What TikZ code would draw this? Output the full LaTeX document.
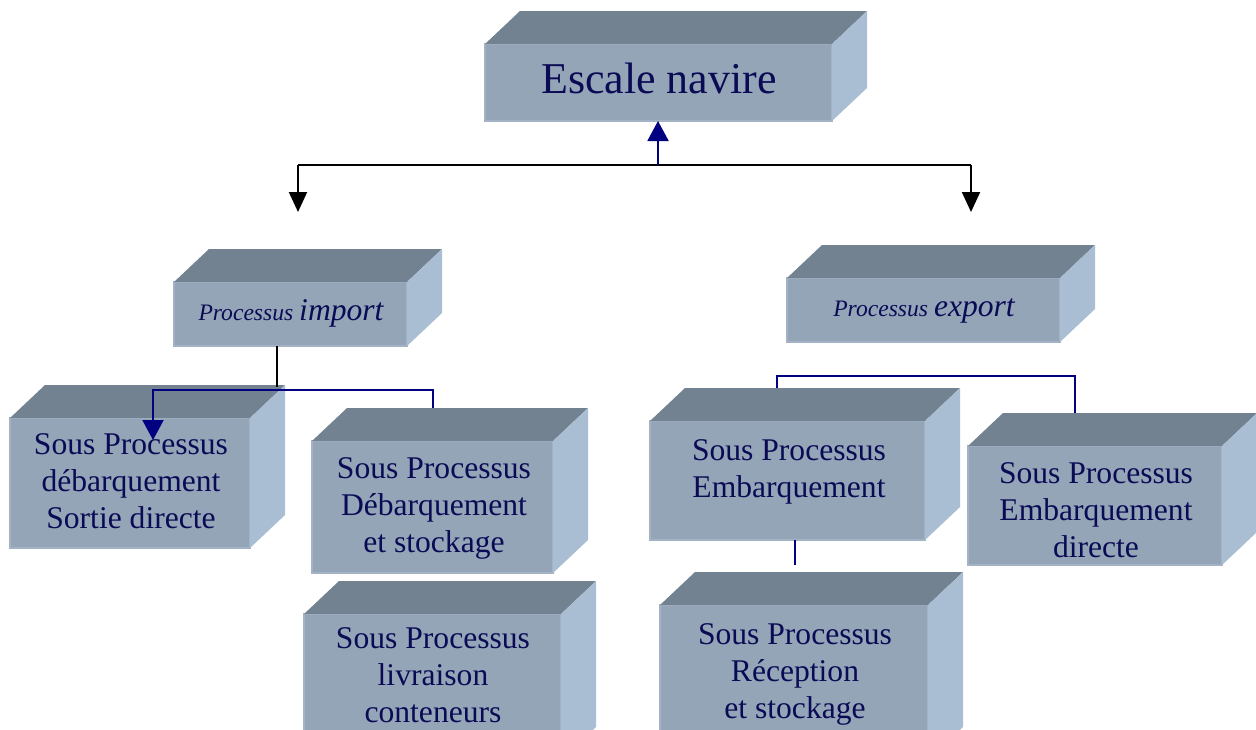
\documentclass[tikz,border=0pt]{standalone}
\usepackage{fontspec}
\setmainfont{Liberation Serif}
\usetikzlibrary{arrows.meta,calc}

\definecolor{frontc}{HTML}{94A5B8}
\definecolor{frontedge}{HTML}{A3B2C4}
\definecolor{topc}{HTML}{738291}
\definecolor{sidec}{HTML}{A9BED3}
\definecolor{inkc}{HTML}{0B0B55}
\definecolor{navyc}{HTML}{000080}

\tikzset{
  frontface/.style={fill=frontc, draw=frontedge, line width=0.75pt,
    inner sep=0pt, outer sep=0pt},
  topface/.style={fill=topc},
  sideface/.style={fill=sidec},
  boxtext/.style={text=inkc, align=center, inner sep=0pt,
    font=\fontsize{15.8pt}{18.3pt}\selectfont},
  titletext/.style={text=inkc, inner sep=0pt,
    font=\fontsize{22pt}{26pt}\selectfont},
  proctext/.style={text=inkc, inner sep=0pt, font=\itshape},
  blackline/.style={draw=black, line width=1pt},
  navyline/.style={draw=navyc, line width=1pt},
  blacktip/.style={-{Triangle[length=10pt,width=9pt]}},
  navytip/.style={-{Triangle[length=10pt,width=10.5pt]}},
}

% cuboid: name, left, top, right, bottom (pixel grid, y downwards)
\newcommand\cuboid[5]{%
  \node[frontface, minimum width={(#4-#2)*0.5pt}, minimum height={(#5-#3)*0.5pt}]
    (#1) at ({(#2+#4)/2},{(#3+#5)/2}) {};
  \fill[topface] (#1.north west) -- ++(35,-33)
    -- ([shift={(35,-33)}]#1.north east) -- (#1.north east) -- cycle;
  \fill[sideface] (#1.north east) -- ++(35,-33)
    -- ([shift={(35,-33)}]#1.south east) -- (#1.south east) -- cycle;
}

\begin{document}
\begin{tikzpicture}[x=0.5pt, y=-0.5pt]
\useasboundingbox (0,0) rectangle (1256,729);
\clip (0,0) rectangle (1256,729);

% boxes
\cuboid{esc}{485}{44}{832}{121}
\cuboid{imp}{174}{282}{407}{346}
\cuboid{exp}{787}{278}{1060}{342}
\cuboid{sd}{10}{418}{250}{548}
\cuboid{ds}{312}{441}{553}{573}
\cuboid{lc}{304}{614}{561}{760}
\cuboid{em}{650}{421}{925}{540}
\cuboid{ed}{968}{446}{1222}{565}
\cuboid{rs}{660}{605}{928}{760}

% labels (base anchor = baseline of the last line)
\node[titletext, anchor=base] (esc-t) at (659,93) {Escale navire};
\node[proctext, anchor=base] (imp-t) at (291,320)
  {\fontsize{11.8pt}{14pt}\selectfont Processus \fontsize{15.8pt}{18pt}\selectfont import};
\node[proctext, anchor=base] (exp-t) at (924,316)
  {\fontsize{11.8pt}{14pt}\selectfont Processus \fontsize{15.8pt}{18pt}\selectfont export};
\node[boxtext, anchor=base] (sd-t) at (131,528) {Sous Processus\\débarquement\\Sortie directe};
\node[boxtext, anchor=base] (ds-t) at (434,552) {Sous Processus\\Débarquement\\et stockage};
\node[boxtext, anchor=base] (lc-t) at (433,722) {Sous Processus\\livraison\\conteneurs};
\node[boxtext, anchor=base] (em-t) at (789,497) {Sous Processus\\Embarquement};
\node[boxtext, anchor=base] (ed-t) at (1096,557) {Sous Processus\\Embarquement\\directe};
\node[boxtext, anchor=base] (rs-t) at (795,718) {Sous Processus\\Réception\\et stockage};

% junction points
\coordinate (hub) at (658,165);
\coordinate (hubL) at (298,165);
\coordinate (hubR) at (971,165);
\coordinate (tipL) at (298,212);
\coordinate (tipR) at (971,212);
\coordinate (impj) at (277,387);
\coordinate (impL) at (153,390);
\coordinate (impR) at (433,390);
\coordinate (sdtip) at (153,440);
\coordinate (expL) at (777,376);
\coordinate (expR) at (1075,376);
\coordinate (emj) at (795,565);

% connectors
\draw[blackline] (hubL) -- (hubR);
\draw[blackline, blacktip] (hubL) -- (tipL);
\draw[blackline, blacktip] (hubR) -- (tipR);
\draw[navyline, navytip] (hub) -- (hub |- esc.south);

\draw[blackline] (impj |- imp.south) -- (impj);
\draw[navyline, navytip] ([shift={(0,-33)}]ds.north -| impR) -- (impR) -- (impL) -- (sdtip);

\draw[navyline] ([shift={(0,-33)}]em.north -| expL) -- (expL) -- (expR)
  -- ([shift={(0,-33)}]ed.north -| expR);
\draw[navyline] (emj |- em.south) -- (emj);
\end{tikzpicture}
\end{document}
